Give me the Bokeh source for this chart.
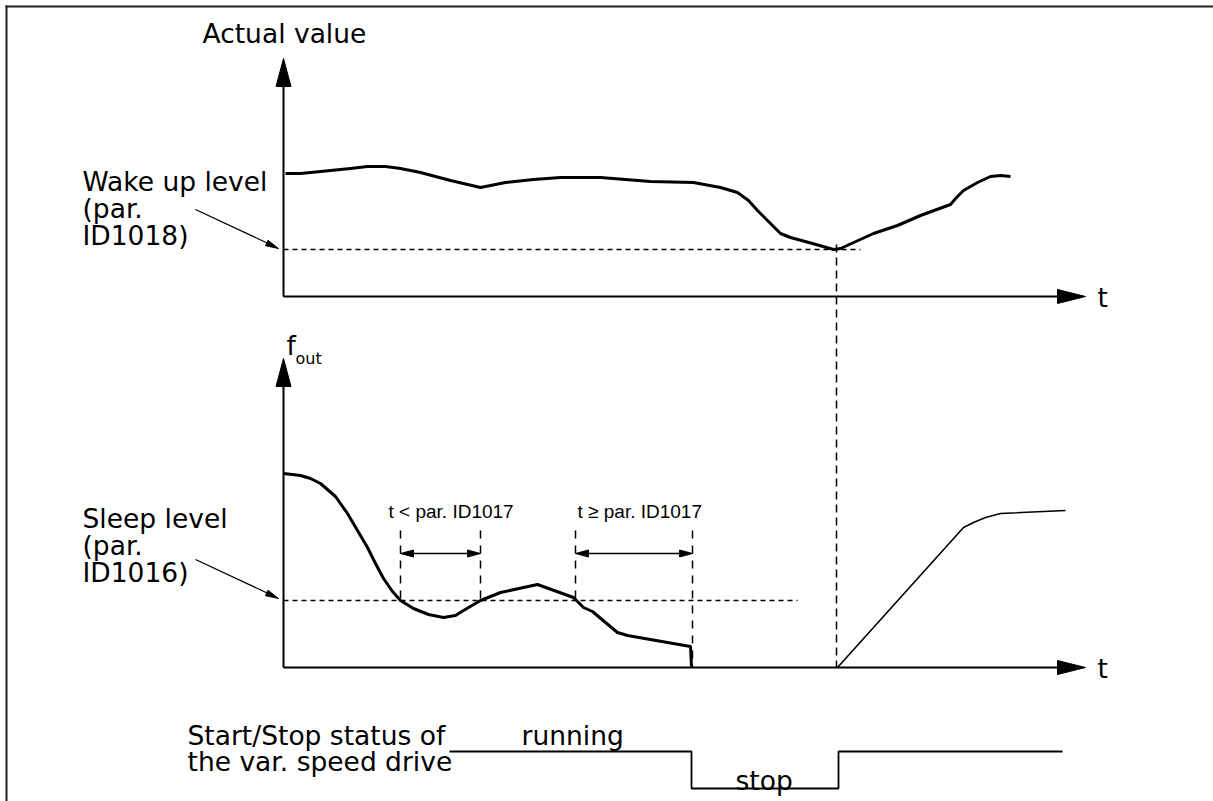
from bokeh.plotting import figure
from bokeh.models import Range1d
from bokeh.core.properties import value
from bokeh.embed import file_html
from bokeh.resources import INLINE
import math

# ---------------- data (diagram units == screen pixels) ----------------
# Actual value curve (top panel)
actual_t = [285, 300, 330, 350, 367, 385, 400, 420, 450, 480, 505, 533, 560, 600, 650, 693, 720, 737,
            748, 757, 770, 780, 790, 812, 833, 840, 873, 897, 920, 950, 956, 963, 977, 990, 1000, 1010]
actual_v = [173, 173, 170, 168, 166, 166, 168, 172, 180, 187, 182, 179, 177, 177, 181, 182, 187, 192,
            200, 210, 223, 233, 237, 243, 249, 248, 233, 225, 215, 204, 197, 190, 182, 176, 175, 176]

# Output frequency curve before sleep (bottom panel)
fout_t = [283, 300, 310, 320, 335, 347, 357, 367, 375, 383, 392, 400, 413, 428, 443, 455, 463, 480, 500, 537,
          573, 583, 592, 605, 617, 627, 690, 691]
fout_v = [473, 475, 478, 483, 496, 513, 530, 547, 563, 578, 591, 600, 608, 614, 617, 615, 610, 600, 592, 584,
          597, 607, 611, 622, 632, 635, 646, 666]

# Output frequency ramp after wake-up
ramp_t = [837, 963, 973, 985, 1000, 1065]
ramp_v = [667, 527, 522, 517, 513, 510]

# Start/Stop status trace
status_t = [449, 691, 691, 838, 838, 1062]
status_v = [751, 751, 788, 788, 751, 751]

# Key levels / instants
wake_level = 249
sleep_level = 600
wake_instant = 836
delay_marks = [400, 480, 575, 692]

W, H = 1213, 801
p = figure(width=W, height=H, x_range=Range1d(0, W), y_range=Range1d(H, 0),
           output_backend="svg", toolbar_location=None, x_axis_type=None, y_axis_type=None,
           min_border=0, outline_line_color=None)
p.grid.visible = False
p.background_fill_color = "white"

BLACK = "#000000"
FONT = value("DejaVu Sans")


def tri(tip_x, tip_y, dx, dy, length, width):
    n = math.hypot(dx, dy)
    ux, uy = dx / n, dy / n
    bx, by = tip_x - ux * length, tip_y - uy * length
    px, py = -uy * width / 2, ux * width / 2
    return [tip_x, bx + px, bx - px], [tip_y, by + py, by - py]


heads_x, heads_y = [], []

# frame
p.line([6, 6], [5, H], line_color="#222222", line_width=2)
p.line([5, W], [6, 6], line_color="#222222", line_width=2)

# ---------- top panel axes ----------
ax_x0 = 283
top_axis_y = 296
top_axis_tip = 58
p.line([ax_x0, ax_x0], [top_axis_y, top_axis_tip + 20], line_color=BLACK, line_width=2)
p.line([ax_x0, 1070], [top_axis_y, top_axis_y], line_color=BLACK, line_width=2)
hx, hy = tri(ax_x0, top_axis_tip, 0, -1, 28, 15); heads_x.append(hx); heads_y.append(hy)
hx, hy = tri(1085, top_axis_y, 1, 0, 28, 14); heads_x.append(hx); heads_y.append(hy)

# ---------- bottom panel axes ----------
bot_axis_y = 667
bot_axis_tip = 358
p.line([ax_x0, ax_x0], [bot_axis_y, bot_axis_tip + 20], line_color=BLACK, line_width=2)
p.line([ax_x0, 1070], [bot_axis_y, bot_axis_y], line_color=BLACK, line_width=2)
hx, hy = tri(ax_x0, bot_axis_tip, 0, -1, 28, 15); heads_x.append(hx); heads_y.append(hy)
hx, hy = tri(1085, bot_axis_y, 1, 0, 28, 14); heads_x.append(hx); heads_y.append(hy)

# dashed level lines
p.line([ax_x0, 860], [wake_level, wake_level], line_color=BLACK, line_width=1.5, line_dash="5 4")
p.line([ax_x0, 797], [sleep_level, sleep_level], line_color=BLACK, line_width=1.5, line_dash="5 4")
p.line([wake_instant, wake_instant], [244, bot_axis_y], line_color=BLACK, line_width=1.5, line_dash="8 5")

# delay marker dashed verticals
for i, xm in enumerate(delay_marks):
    y_end = bot_axis_y if i == 3 else sleep_level + 2
    p.line([xm, xm], [530, y_end], line_color=BLACK, line_width=1.5, line_dash="8 7")

# double arrows
arr_y = 553
for a, b in [(delay_marks[0], delay_marks[1]), (delay_marks[2], delay_marks[3])]:
    p.line([a + 6, b - 6], [arr_y, arr_y], line_color=BLACK, line_width=1.5)
    hx, hy = tri(a, arr_y, -1, 0, 13, 7); heads_x.append(hx); heads_y.append(hy)
    hx, hy = tri(b, arr_y, 1, 0, 13, 7); heads_x.append(hx); heads_y.append(hy)

# level label pointer arrows
for (x0, y0, x1, y1) in [(195, 209, 278, 248), (195, 559, 278, 598)]:
    p.line([x0, x1 - 6], [y0, y1 - 3], line_color=BLACK, line_width=1.3)
    hx, hy = tri(x1, y1, x1 - x0, y1 - y0, 13, 6); heads_x.append(hx); heads_y.append(hy)

p.patches(heads_x, heads_y, fill_color=BLACK, line_color=BLACK, line_width=1)

# curves
p.line(actual_t, actual_v, line_color=BLACK, line_width=3, line_join="round")
p.line(fout_t, fout_v, line_color=BLACK, line_width=3, line_join="round")
p.line(ramp_t, ramp_v, line_color=BLACK, line_width=1.6, line_join="round")
p.line(status_t, status_v, line_color=BLACK, line_width=1.8)

# ---------- texts ----------
def txt(x, y, s, size=26.5, font=FONT, align="left"):
    # y is the desired alphabetic baseline; compensate renderer's baseline offset
    p.text(x=[x], y=[y - 0.36 * size], text=[s], text_font=font,
           text_font_size=f"{size}px", text_color=BLACK,
           text_baseline="alphabetic", text_align=align)

txt(202, 43, "Actual value")
txt(82, 191, "Wake up level")
txt(82, 218, "(par.")
txt(82, 245, "ID1018)")
txt(1097, 307, "t")
txt(1097, 678, "t")
txt(286, 355, "f")
txt(295, 364, "out", size=16)
txt(82, 528, "Sleep level")
txt(82, 555, "(par.")
txt(82, 582, "ID1016)")
txt(388, 518, "t < par. ID1017", size=19, font=value("Liberation Sans"))
txt(577, 518, "t \u2265 par. ID1017", size=19, font=value("Liberation Sans"))
txt(187, 745, "Start/Stop status of")
txt(187, 771, "the var. speed drive")
txt(521, 745, "running")
txt(735, 790, "stop")

open("out.html", "w").write(file_html(p, INLINE))
